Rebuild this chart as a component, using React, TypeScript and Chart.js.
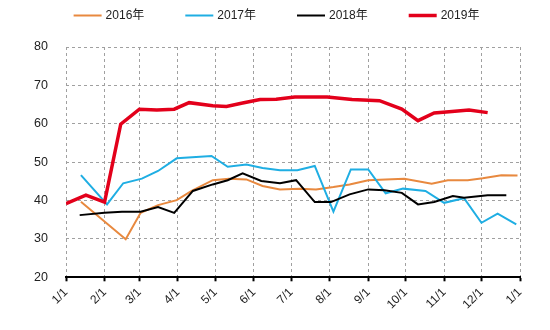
import React, { useEffect, useRef } from "react";
import { Chart, registerables } from "chart.js";

Chart.register(...registerables);

// Month start tick labels (x axis)
const tickLabels = ["1/1", "2/1", "3/1", "4/1", "5/1", "6/1", "7/1", "8/1", "9/1", "10/1", "11/1", "12/1", "1/1"];
const monthStartDays = [0, 31, 59, 90, 120, 151, 181, 212, 243, 273, 304, 334, 365];

const seriesNames = ["2016年", "2017年", "2018年", "2019年"];

const dates2016 = ["1/13", "2/18", "3/2", "3/16", "3/31", "4/12", "4/29", "5/12", "5/26", "6/8", "6/22", "7/8", "7/21", "8/4", "8/17", "9/1", "9/15", "9/30", "10/22", "11/4", "11/20", "12/2", "12/17", "12/30"];
const values2016 = [39.7, 29.9, 36.8, 38.8, 40.1, 42.5, 45.3, 45.7, 45.5, 43.8, 42.9, 43.1, 42.9, 43.5, 44.2, 45.3, 45.5, 45.7, 44.4, 45.3, 45.3, 45.8, 46.6, 46.5];

const dates2017 = ["1/13", "2/3", "2/16", "3/3", "3/16", "3/31", "4/28", "5/11", "5/26", "6/8", "6/22", "7/6", "7/20", "8/4", "8/18", "9/1", "9/15", "9/29", "10/17", "11/1", "11/17", "12/1", "12/14", "12/29"];
const values2017 = [46.6, 39.0, 44.5, 45.7, 47.7, 51.0, 51.6, 48.8, 49.4, 48.5, 47.9, 47.9, 49.0, 37.1, 48.1, 48.1, 41.9, 43.1, 42.5, 39.4, 40.6, 34.2, 36.6, 33.8];

const dates2018 = ["1/12", "2/1", "2/15", "3/2", "3/16", "3/29", "4/13", "4/29", "5/11", "5/23", "6/7", "6/22", "7/5", "7/20", "8/2", "8/17", "9/1", "9/14", "9/28", "10/11", "10/24", "11/8", "11/17", "12/6", "12/21"];
const values2018 = [36.2, 36.8, 37.1, 37.1, 38.3, 36.8, 42.5, 44.2, 45.3, 47.1, 45.1, 44.5, 45.3, 39.6, 39.6, 41.6, 42.9, 42.7, 42.0, 39.0, 39.6, 41.2, 40.7, 41.4, 41.4];

const dates2019 = ["1/1", "1/17", "2/1", "2/14", "3/1", "3/15", "3/29", "4/10", "4/29", "5/10", "5/23", "6/6", "6/19", "7/4", "7/30", "8/19", "9/10", "9/28", "10/11", "10/24", "11/5", "11/21", "12/6"];
const values2019 = [39.2, 41.4, 39.6, 59.9, 63.8, 63.6, 63.8, 65.5, 64.7, 64.5, 65.4, 66.3, 66.4, 67.0, 67.0, 66.3, 66.0, 63.8, 60.8, 62.8, 63.1, 63.6, 62.9];

const colors = ["#E8893F", "#1FAEE3", "#000000", "#E3001B"];
const widths = [2, 2, 2, 3.5];

const FONT = '"Liberation Sans", "Noto Sans CJK SC", Arial, sans-serif';

function dayOfYear(md: string): number {
  const [m, d] = md.split("/").map(Number);
  return monthStartDays[m - 1] + d - 1;
}

function toPoints(dates: string[], values: number[]) {
  return dates.map((d, i) => ({ x: dayOfYear(d), y: values[i] }));
}

const topLegend = {
  id: "topLegend",
  afterDraw(chart: any) {
    const ctx = chart.ctx;
    ctx.save();
    ctx.font = `12px ${FONT}`;
    ctx.textBaseline = "middle";
    ctx.textAlign = "left";
    const lineW = 28;
    const gapLT = 4;
    const gapItem = 41;
    const items = chart.data.datasets.map((ds: any) => ({
      text: ds.label,
      color: ds.borderColor,
      w: ds.borderWidth,
      tw: ctx.measureText(ds.label).width,
    }));
    const total =
      items.reduce((s: number, it: any) => s + lineW + gapLT + it.tw, 0) + gapItem * (items.length - 1);
    let x = 276.5 - total / 2;
    const y = 15.5;
    for (const it of items) {
      ctx.strokeStyle = it.color;
      ctx.lineWidth = it.w;
      ctx.beginPath();
      ctx.moveTo(x, y);
      ctx.lineTo(x + lineW, y);
      ctx.stroke();
      ctx.fillStyle = "#222";
      ctx.fillText(it.text, x + lineW + gapLT, y + 0.5);
      x += lineW + gapLT + it.tw + gapItem;
    }
    ctx.restore();
  },
};

export default function App() {
  const ref = useRef<HTMLCanvasElement>(null);
  useEffect(() => {
    if (!ref.current) return;
    const seriesDates = [dates2016, dates2017, dates2018, dates2019];
    const seriesValues = [values2016, values2017, values2018, values2019];
    const orders = [3, 2, 1, 0];
    const chart = new Chart(ref.current, {
      type: "line",
      data: {
        datasets: seriesNames.map((name, i) => ({
          label: name,
          data: toPoints(seriesDates[i], seriesValues[i]),
          borderColor: colors[i],
          backgroundColor: colors[i],
          borderWidth: widths[i],
          pointRadius: 0,
          tension: 0,
          fill: false,
          order: orders[i],
        })),
      },
      options: {
        animation: false,
        responsive: false,
        maintainAspectRatio: false,
        layout: { padding: { top: 47, right: 30, left: 0, bottom: 14 } },
        plugins: {
          legend: { display: false },
          tooltip: { enabled: false },
        },
        scales: {
          x: {
            type: "linear",
            min: 0,
            max: 365,
            afterBuildTicks: (scale: any) => {
              scale.ticks = monthStartDays.map((v) => ({ value: v }));
            },
            ticks: {
              autoSkip: false,
              minRotation: 45,
              maxRotation: 45,
              padding: 4,
              color: "#222",
              font: { family: FONT, size: 12 },
              callback: (value: any) => {
                const idx = monthStartDays.indexOf(Number(value));
                return idx >= 0 ? tickLabels[idx] : "";
              },
            },
            grid: {
              color: "#A0A0A0",
              lineWidth: 1,
              drawTicks: true,
              tickLength: 4,
              tickColor: "#000",
              tickWidth: 2,
            },
            border: { display: true, color: "#000", width: 2, dash: [3, 3] },
          },
          y: {
            min: 20,
            max: 80,
            afterFit: (scale: any) => {
              scale.width = 66;
            },
            ticks: {
              stepSize: 10,
              padding: 18,
              color: "#222",
              font: { family: FONT, size: 12.5 },
            },
            grid: { color: "#A0A0A0", lineWidth: 1, drawTicks: false },
            border: { display: false, dash: [3, 3] },
          },
        },
      },
      plugins: [topLegend],
    });
    return () => chart.destroy();
  }, []);
  return (
    <div style={{ position: "fixed", left: 0, top: 0, width: 550, height: 330, background: "#fff" }}>
      <canvas ref={ref} width={550} height={330} />
    </div>
  );
}
